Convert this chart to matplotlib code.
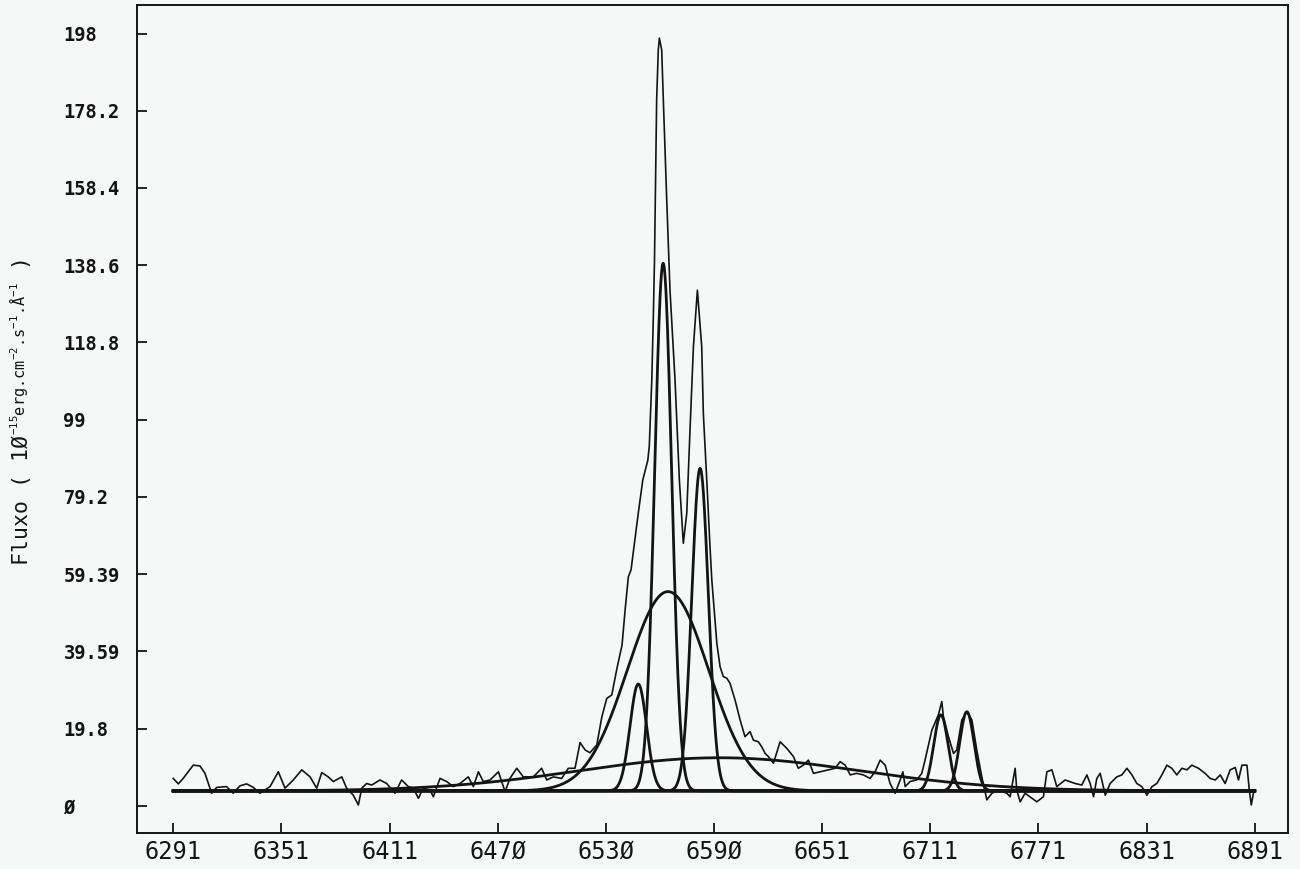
import numpy as np
import matplotlib
matplotlib.use("Agg")
import matplotlib.pyplot as plt

# observed spectrum: wavelength (A) and flux (1e-15 erg cm-2 s-1 A-1)
wave = [6291.0, 6293.8, 6296.5, 6302.1, 6305.8, 6308.6, 6311.4, 6312.3, 6315.1, 6320.6,
        6324.3, 6328.0, 6331.7, 6335.4, 6339.1, 6344.7, 6349.3, 6353.0, 6357.6, 6362.3,
        6366.9, 6370.6, 6373.4, 6377.0, 6379.8, 6384.5, 6387.2, 6390.9, 6393.7, 6395.6,
        6398.3, 6401.1, 6405.7, 6409.4, 6414.0, 6417.7, 6421.4, 6424.2, 6427.0, 6429.7,
        6433.5, 6435.3, 6439.0, 6442.7, 6446.4, 6450.1, 6454.7, 6457.5, 6460.3, 6463.0,
        6466.8, 6471.4, 6475.1, 6477.8, 6481.6, 6485.2, 6490.8, 6495.4, 6498.2, 6501.9,
        6506.5, 6510.2, 6513.9, 6516.7, 6519.5, 6522.2, 6526.0, 6528.8, 6531.5, 6534.3,
        6537.2, 6540.0, 6541.7, 6543.5, 6545.0, 6549.0, 6551.5, 6554.3, 6555.1, 6556.5,
        6557.4, 6558.0, 6559.2, 6560.1, 6560.7, 6562.0, 6562.9, 6564.8, 6566.6, 6569.4,
        6571.8, 6574.0, 6575.9, 6577.7, 6579.6, 6581.8, 6584.2, 6585.1, 6587.0, 6588.8,
        6589.8, 6592.6, 6594.4, 6596.2, 6598.1, 6599.9, 6602.7, 6605.5, 6608.2, 6611.0,
        6612.9, 6615.6, 6617.5, 6619.4, 6621.2, 6624.0, 6627.7, 6631.4, 6635.1, 6637.8,
        6640.6, 6643.4, 6646.2, 6649.9, 6654.5, 6658.2, 6661.0, 6663.8, 6666.6, 6670.2,
        6673.9, 6677.6, 6680.4, 6683.2, 6686.0, 6688.7, 6691.5, 6694.3, 6695.8, 6697.1,
        6699.8, 6703.5, 6706.3, 6708.1, 6711.9, 6715.5, 6717.4, 6718.3, 6721.1, 6723.9,
        6725.7, 6728.5, 6731.3, 6734.1, 6736.8, 6739.6, 6742.4, 6745.2, 6748.8, 6753.5,
        6755.3, 6758.1, 6759.0, 6760.9, 6763.6, 6767.4, 6770.1, 6773.8, 6775.7, 6778.5,
        6781.2, 6785.8, 6791.4, 6795.1, 6797.9, 6799.7, 6801.6, 6803.4, 6805.3, 6806.8,
        6808.1, 6810.8, 6814.5, 6817.3, 6820.1, 6822.9, 6825.6, 6828.4, 6831.2, 6834.0,
        6836.7, 6839.5, 6842.3, 6845.0, 6847.8, 6850.6, 6853.4, 6856.1, 6859.8, 6863.5,
        6866.3, 6869.1, 6871.9, 6874.6, 6877.4, 6880.2, 6882.0, 6883.9, 6886.7, 6888.0,
        6889.1, 6890.3]
flux = [7.0, 5.6, 7.0, 10.4, 10.2, 8.3, 4.5, 3.2, 4.7, 4.9,
        3.2, 5.1, 5.6, 4.7, 3.2, 4.9, 8.7, 4.5, 6.6, 9.2,
        7.4, 4.5, 8.5, 7.4, 6.2, 7.4, 4.5, 2.7, 0.2, 4.5,
        5.7, 5.3, 6.6, 5.7, 3.2, 6.6, 4.9, 4.5, 1.9, 4.5,
        4.0, 2.3, 7.0, 6.2, 4.9, 5.7, 7.4, 4.9, 8.7, 6.2,
        6.6, 8.7, 3.6, 7.0, 9.6, 7.4, 7.4, 9.6, 6.6, 7.4,
        7.0, 9.6, 9.6, 16.2, 14.3, 13.6, 15.6, 22.8, 27.5, 28.4,
        35.3, 41.2, 50.2, 58.7, 60.5, 75.0, 83.5, 88.6, 92.1, 109.1,
        126.3, 139.9, 181.0, 193.8, 196.8, 193.8, 181.0, 155.3, 132.2, 109.1,
        83.5, 67.3, 75.0, 96.3, 117.7, 132.2, 117.7, 100.6, 83.5, 66.4,
        57.9, 41.6, 35.6, 33.1, 32.7, 31.4, 27.1, 22.0, 17.7, 19.0,
        16.8, 16.4, 15.1, 13.4, 12.6, 10.9, 16.4, 14.7, 12.6, 9.6,
        10.4, 11.7, 8.3, 8.7, 9.2, 9.6, 11.3, 10.4, 7.9, 8.3,
        7.9, 7.0, 8.7, 11.7, 10.4, 5.7, 3.2, 6.6, 8.7, 4.9,
        6.2, 6.6, 8.3, 11.7, 19.4, 23.3, 26.7, 22.8, 17.7, 13.4,
        14.3, 22.0, 24.1, 22.0, 14.3, 7.4, 1.5, 3.2, 4.0, 3.2,
        2.3, 9.6, 4.0, 1.0, 3.2, 1.9, 1.0, 2.3, 8.7, 9.2,
        4.9, 6.6, 5.7, 5.3, 7.9, 5.7, 2.3, 7.0, 8.3, 5.3,
        2.7, 5.7, 7.4, 7.9, 9.6, 7.9, 5.7, 4.9, 2.7, 4.9,
        5.7, 7.9, 10.4, 9.6, 7.9, 9.6, 9.2, 10.4, 9.6, 8.3,
        7.0, 6.6, 7.9, 5.7, 9.2, 9.8, 6.6, 10.4, 10.4, 4.0,
        0.2, 3.2]

# fitted continuum and gaussian components (centre, peak above continuum, sigma)
continuum = 3.8
comp_center = [6594.0, 6565.5, 6549.0, 6562.8, 6583.3, 6716.9, 6731.3]
comp_peak = [8.5, 51.1, 27.4, 135.3, 82.7, 19.5, 20.3]
comp_sigma = [78.0, 22.6, 4.6, 4.7, 4.6, 4.0, 4.0]

ytick_vals = [0, 19.8, 39.59, 59.39, 79.2, 99, 118.8, 138.6, 158.4, 178.2, 198]
ytick_labels = ["Ø", "19.8", "39.59", "59.39", "79.2", "99", "118.8", "138.6",
                "158.4", "178.2", "198"]
xtick_labels = ["6291", "6351", "6411", "647Ø", "653Ø", "659Ø", "6651", "6711",
                "6771", "6831", "6891"]

# y axis title, drawn in pieces so the units can be smaller
ylabel_parts = ["Fluxo ( 1Ø", r"$^{-15}$erg.cm$^{-2}$.s$^{-1}$.Å$^{-1}$", " )"]

plt.rcParams["mathtext.fontset"] = "custom"
plt.rcParams["mathtext.rm"] = "DejaVu Sans Mono"
plt.rcParams["mathtext.it"] = "DejaVu Sans Mono"

ink = "#141414"
paper = "#f6f7f7"
mono = "DejaVu Sans Mono"

fig = plt.figure(figsize=(13, 8.69), dpi=100, facecolor=paper)
ax = fig.add_axes([0.1054, 0.0414, 0.8854, 0.9528])
ax.set_facecolor(paper)

grid = np.linspace(6291, 6891, 3000)
ax.plot(grid, np.full_like(grid, continuum), color=ink, lw=2.2)
for c, a, s in zip(comp_center, comp_peak, comp_sigma):
    ax.plot(grid, continuum + a * np.exp(-0.5 * ((grid - c) / s) ** 2), color=ink, lw=2.0)

ax.plot(wave, flux, color=ink, lw=1.2)

ax.set_xlim(6270.9, 6909.5)
ax.set_ylim(-7.0, 205.3)

ax.set_xticks(np.linspace(6291, 6891, 11))
ax.set_xticklabels(xtick_labels, family=mono, fontsize=17)
ax.set_yticks(ytick_vals)
ax.set_yticklabels(ytick_labels, family=mono, fontsize=13.5, fontweight="bold")
for lab in ax.get_yticklabels():
    lab.set_horizontalalignment("left")

ax.tick_params(axis="x", direction="in", length=7, width=1.3, pad=5, colors=ink)
ax.tick_params(axis="y", direction="in", length=7, width=1.3, pad=53, colors=ink)
for side in ["left", "right", "top", "bottom"]:
    ax.spines[side].set_linewidth(1.4)
    ax.spines[side].set_color(ink)

# stack the title pieces upwards from just below mid-height
renderer = fig.canvas.get_renderer()
y_pos = (869 - 565) / 869
for txt, size, dx in zip(ylabel_parts, [15.5, 11, 15.5], [0, -3, 0]):
    t = fig.text((22 + dx) / 1300, y_pos, txt, rotation=90, ha="center", va="bottom",
                 family=mono, fontsize=size, color=ink)
    y_pos = t.get_window_extent(renderer).y1 / fig.bbox.height

fig.savefig("out.png", dpi=100, facecolor=paper)
